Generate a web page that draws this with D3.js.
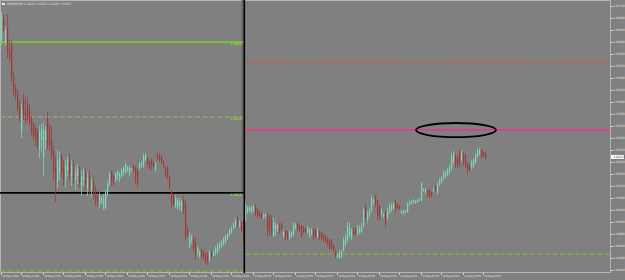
<!DOCTYPE html>
<html>
<head>
<meta charset="utf-8">
<script src="https://cdn.jsdelivr.net/npm/d3@7"></script>
<style>
body { margin: 0; background: #808080; }
svg { display: block; }
</style>
</head>
<body>
<script>
var w = 625;
var h = 280;

var symbol = "GBPUSD,M5";
var fridayStart = new Date(2016, 4, 20, 13, 50);
var mondayStart = new Date(2016, 4, 23, 0, 0);

// [open, high, low, close]
var friday = [
[1.45607,1.45700,1.45590,1.45690],[1.45680,1.45693,1.45633,1.45640],[1.45600,1.45653,1.45587,1.45640],[1.45647,1.45693,1.45547,1.45567],[1.45567,1.45607,1.45533,1.45547],
[1.45590,1.45603,1.45467,1.45480],[1.45480,1.45500,1.45420,1.45440],[1.45447,1.45460,1.45407,1.45420],[1.45427,1.45440,1.45367,1.45380],[1.45387,1.45407,1.45333,1.45347],
[1.45307,1.45393,1.45280,1.45373],[1.45407,1.45427,1.45340,1.45353],[1.45367,1.45420,1.45327,1.45340],[1.45393,1.45413,1.45333,1.45347],[1.45373,1.45393,1.45320,1.45333],
[1.45347,1.45353,1.45287,1.45300],[1.45327,1.45333,1.45273,1.45287],[1.45313,1.45320,1.45253,1.45273],[1.45300,1.45313,1.45240,1.45253],[1.45240,1.45320,1.45213,1.45300],
[1.45273,1.45327,1.45233,1.45313],[1.45213,1.45333,1.45153,1.45307],[1.45273,1.45320,1.45240,1.45307],[1.45347,1.45367,1.45240,1.45260],[1.45320,1.45327,1.45240,1.45253],
[1.45273,1.45320,1.45207,1.45220],[1.45240,1.45253,1.45140,1.45167],[1.45180,1.45223,1.45067,1.45140],[1.45133,1.45240,1.45113,1.45207],[1.45167,1.45233,1.45140,1.45213],
[1.45220,1.45227,1.45147,1.45167],[1.45180,1.45207,1.45120,1.45140],[1.45140,1.45207,1.45113,1.45187],[1.45173,1.45220,1.45153,1.45207],[1.45207,1.45227,1.45140,1.45160],
[1.45153,1.45207,1.45120,1.45187],[1.45190,1.45207,1.45127,1.45147],[1.45140,1.45187,1.45107,1.45167],[1.45153,1.45193,1.45127,1.45180],[1.45173,1.45187,1.45113,1.45133],
[1.45120,1.45173,1.45087,1.45153],[1.45140,1.45180,1.45120,1.45167],[1.45167,1.45180,1.45107,1.45127],[1.45113,1.45167,1.45087,1.45147],[1.45153,1.45173,1.45093,1.45113],
[1.45107,1.45147,1.45080,1.45133],[1.45133,1.45153,1.45073,1.45093],[1.45100,1.45120,1.45053,1.45073],[1.45087,1.45107,1.45053,1.45067],[1.45060,1.45100,1.45047,1.45087],
[1.45067,1.45087,1.45060,1.45080],[1.45047,1.45093,1.45040,1.45080],[1.45047,1.45107,1.45040,1.45100],[1.45093,1.45140,1.45087,1.45127],[1.45127,1.45167,1.45120,1.45160],
[1.45167,1.45173,1.45120,1.45133],[1.45153,1.45160,1.45120,1.45127],[1.45140,1.45167,1.45133,1.45160],[1.45153,1.45173,1.45140,1.45167],[1.45147,1.45167,1.45133,1.45160],
[1.45153,1.45180,1.45147,1.45173],[1.45167,1.45187,1.45153,1.45180],[1.45167,1.45197,1.45160,1.45193],[1.45173,1.45187,1.45167,1.45183],[1.45160,1.45187,1.45153,1.45180],
[1.45173,1.45180,1.45167,1.45177],[1.45187,1.45193,1.45167,1.45173],[1.45180,1.45187,1.45127,1.45140],[1.45173,1.45180,1.45113,1.45127],[1.45180,1.45200,1.45173,1.45193],
[1.45187,1.45203,1.45180,1.45200],[1.45187,1.45230,1.45180,1.45220],[1.45207,1.45230,1.45203,1.45223],[1.45213,1.45220,1.45180,1.45193],[1.45200,1.45207,1.45173,1.45180],
[1.45207,1.45213,1.45173,1.45187],[1.45197,1.45200,1.45183,1.45187],[1.45173,1.45200,1.45167,1.45193],[1.45227,1.45230,1.45207,1.45213],[1.45220,1.45230,1.45200,1.45207],
[1.45213,1.45223,1.45193,1.45200],[1.45200,1.45207,1.45180,1.45187],[1.45180,1.45187,1.45147,1.45153],[1.45180,1.45187,1.45140,1.45147],[1.45147,1.45153,1.45107,1.45113],
[1.45100,1.45107,1.45047,1.45060],[1.45087,1.45093,1.45053,1.45060],[1.45053,1.45087,1.45047,1.45080],[1.45047,1.45080,1.45040,1.45073],[1.45053,1.45080,1.45040,1.45067],
[1.45040,1.45073,1.45033,1.45067],[1.45073,1.45087,1.45027,1.45040],[1.45060,1.45073,1.44940,1.44953],[1.44973,1.44987,1.44947,1.44960],[1.44920,1.44967,1.44913,1.44953],
[1.44940,1.44960,1.44927,1.44953],[1.44947,1.44953,1.44900,1.44913],[1.44933,1.44950,1.44873,1.44887],[1.44893,1.44920,1.44887,1.44913],[1.44887,1.44907,1.44880,1.44900],
[1.44907,1.44913,1.44880,1.44887],[1.44900,1.44907,1.44873,1.44880],[1.44893,1.44900,1.44860,1.44867],[1.44887,1.44900,1.44857,1.44867],[1.44873,1.44907,1.44867,1.44900],
[1.44900,1.44907,1.44880,1.44887],[1.44887,1.44907,1.44887,1.44900],[1.44893,1.44920,1.44887,1.44913],[1.44900,1.44930,1.44893,1.44920],[1.44913,1.44933,1.44907,1.44927],
[1.44920,1.44940,1.44913,1.44933],[1.44927,1.44950,1.44920,1.44947],[1.44933,1.44960,1.44927,1.44953],[1.44947,1.44963,1.44940,1.44960],[1.44960,1.44980,1.44953,1.44973],
[1.44967,1.44987,1.44960,1.44980],[1.44980,1.45000,1.44977,1.44993],[1.44987,1.45013,1.44980,1.45007],[1.45013,1.45020,1.44980,1.44987],[1.44987,1.45007,1.44980,1.45000],
[1.45000,1.45003,1.44967,1.44973],[1.45007,1.45013,1.44923,1.44940]
];

var monday = [
[1.45007,1.45067,1.45000,1.45057],[1.45033,1.45053,1.45027,1.45047],[1.45040,1.45053,1.45033,1.45047],[1.45033,1.45053,1.45027,1.45050],[1.45040,1.45057,1.45033,1.45053],
[1.45053,1.45060,1.45020,1.45027],[1.45040,1.45047,1.45013,1.45020],[1.45033,1.45037,1.45013,1.45020],[1.45027,1.45033,1.45010,1.45013],[1.45013,1.45030,1.45010,1.45023],
[1.45020,1.45030,1.45013,1.45027],[1.45023,1.45030,1.44953,1.44967],[1.45020,1.45027,1.44953,1.44973],[1.45007,1.45023,1.44953,1.44967],[1.44953,1.45013,1.44947,1.45000],
[1.44973,1.45000,1.44953,1.44990],[1.44980,1.44993,1.44967,1.44987],[1.44987,1.44997,1.44960,1.44973],[1.44993,1.45000,1.44967,1.44980],[1.44953,1.44973,1.44947,1.44967],
[1.44973,1.44973,1.44940,1.44953],[1.44967,1.44970,1.44940,1.44947],[1.44947,1.44973,1.44940,1.44967],[1.44953,1.44970,1.44947,1.44967],[1.44960,1.45000,1.44953,1.44993],
[1.44980,1.44997,1.44973,1.44990],[1.44993,1.45000,1.44967,1.44980],[1.44987,1.44993,1.44967,1.44973],[1.44987,1.44990,1.44947,1.44953],[1.44980,1.44987,1.44960,1.44967],
[1.44980,1.44983,1.44963,1.44967],[1.44967,1.44987,1.44960,1.44980],[1.44953,1.44980,1.44947,1.44973],[1.44960,1.44980,1.44953,1.44973],[1.44973,1.44980,1.44940,1.44953],
[1.44973,1.44980,1.44947,1.44953],[1.44953,1.44983,1.44947,1.44973],[1.44967,1.44973,1.44940,1.44947],[1.44963,1.44967,1.44940,1.44947],[1.44953,1.44963,1.44933,1.44940],
[1.44950,1.44957,1.44930,1.44937],[1.44940,1.44950,1.44920,1.44927],[1.44940,1.44943,1.44907,1.44913],[1.44933,1.44943,1.44907,1.44913],[1.44920,1.44923,1.44900,1.44907],
[1.44900,1.44907,1.44880,1.44887],[1.44880,1.44897,1.44880,1.44890],[1.44880,1.44907,1.44877,1.44900],[1.44887,1.44907,1.44880,1.44900],[1.44907,1.44950,1.44900,1.44940],
[1.44927,1.44963,1.44920,1.44953],[1.44940,1.45000,1.44933,1.44987],[1.44953,1.45000,1.44947,1.44980],[1.44947,1.44980,1.44940,1.44973],[1.44973,1.44980,1.44953,1.44960],
[1.44980,1.44983,1.44953,1.44960],[1.44960,1.44990,1.44953,1.44980],[1.44967,1.44990,1.44960,1.44980],[1.44967,1.44997,1.44963,1.44987],[1.44987,1.45047,1.44980,1.45040],
[1.45047,1.45063,1.45000,1.45013],[1.45007,1.45037,1.44997,1.45027],[1.45023,1.45047,1.45017,1.45040],[1.45040,1.45090,1.45033,1.45080],[1.45067,1.45080,1.45057,1.45073],
[1.45087,1.45090,1.45050,1.45060],[1.45073,1.45073,1.45007,1.45020],[1.45053,1.45057,1.45007,1.45013],[1.45027,1.45047,1.45017,1.45040],[1.45020,1.45030,1.45013,1.45027],
[1.45033,1.45037,1.44980,1.44993],[1.45013,1.45047,1.45007,1.45033],[1.45033,1.45063,1.45027,1.45053],[1.45040,1.45063,1.45033,1.45057],[1.45047,1.45067,1.45040,1.45060],
[1.45067,1.45073,1.45033,1.45047],[1.45057,1.45063,1.45040,1.45047],[1.45053,1.45057,1.45040,1.45047],[1.45030,1.45040,1.45027,1.45037],[1.45030,1.45040,1.45023,1.45037],
[1.45033,1.45040,1.45027,1.45037],[1.45033,1.45067,1.45030,1.45060],[1.45060,1.45073,1.45053,1.45067],[1.45063,1.45073,1.45057,1.45070],[1.45067,1.45077,1.45060,1.45073],
[1.45063,1.45073,1.45060,1.45070],[1.45067,1.45077,1.45063,1.45073],[1.45073,1.45080,1.45067,1.45077],[1.45073,1.45133,1.45070,1.45127],[1.45107,1.45113,1.45100,1.45110],
[1.45100,1.45113,1.45093,1.45107],[1.45107,1.45110,1.45083,1.45090],[1.45107,1.45110,1.45080,1.45087],[1.45100,1.45103,1.45080,1.45087],[1.45107,1.45113,1.45100,1.45110],
[1.45120,1.45123,1.45100,1.45107],[1.45100,1.45133,1.45093,1.45127],[1.45127,1.45147,1.45120,1.45140],[1.45133,1.45153,1.45127,1.45147],[1.45147,1.45170,1.45140,1.45163],
[1.45153,1.45173,1.45147,1.45167],[1.45157,1.45180,1.45153,1.45173],[1.45167,1.45190,1.45160,1.45183],[1.45180,1.45230,1.45173,1.45220],[1.45200,1.45237,1.45193,1.45227],
[1.45220,1.45227,1.45180,1.45190],[1.45213,1.45220,1.45180,1.45193],[1.45233,1.45240,1.45180,1.45200],[1.45207,1.45237,1.45200,1.45230],[1.45227,1.45233,1.45187,1.45200],
[1.45220,1.45230,1.45180,1.45190],[1.45193,1.45200,1.45160,1.45173],[1.45187,1.45193,1.45167,1.45173],[1.45180,1.45207,1.45173,1.45200],[1.45187,1.45213,1.45180,1.45207],
[1.45200,1.45230,1.45193,1.45223],[1.45220,1.45247,1.45213,1.45240],[1.45227,1.45247,1.45220,1.45240],[1.45240,1.45243,1.45213,1.45220],[1.45233,1.45237,1.45213,1.45220],
[1.45227,1.45233,1.45207,1.45217]
];

var priceTicks = [1.45720,1.45680,1.45640,1.45600,1.45560,1.45520,1.45480,1.45440,1.45400,1.45360,1.45320,
    1.45280,1.45240,1.45200,1.45160,1.45120,1.45080,1.45040,1.45000,1.44960,1.44920,1.44880,1.44840];

var timeTicks = ["20 May 2016","20 May 14:40","20 May 15:35","20 May 16:25","20 May 17:20","20 May 18:10",
    "20 May 19:05","20 May 19:55","20 May 20:50","20 May 21:40","20 May 22:35","20 May 23:25",
    "23 May 00:20","23 May 01:10","23 May 02:05","23 May 02:55","23 May 03:50","23 May 04:40",
    "23 May 05:35","23 May 06:25","23 May 07:20","23 May 08:10","23 May 09:05","23 May 09:55"];

// horizontal levels drawn over friday and over monday
var fridayLevels = [1.45600, 1.45350, 1.45097, 1.44837];
var mondayLevels = [1.45533, 1.45307, 1.44893];
var fridayLabels = ["1.4560", "1.4535", "1.4510", ""];

// ellipse marking the area under the pink line (bar range, price range)
var ellipseBars = [207.5, 247.5];
var ellipsePrices = [1.45330, 1.45283];

var bull = "#7cd8bb";
var bear = "#a13838";
var plotR = 611;
var plotB = 273;
var font = "'DejaVu Sans Condensed', 'DejaVu Sans', sans-serif";

var bars = friday.concat(monday);
var n = bars.length;
var times = friday.map(function (d, i) { return +fridayStart + i * 300000; })
    .concat(monday.map(function (d, i) { return +mondayStart + i * 300000; }));

var x = d3.scaleBand().domain(d3.range(n)).range([0, n * 2]);
var xAt = function (i) { return x.step() * i + 1; };
var y = d3.scaleLinear().domain([1.44840, 1.45720]).range([270, 6]);

var svg = d3.select("body")
    .append("svg")
    .attr("width", w)
    .attr("height", h)
    .style("font-family", font)
    .style("font-stretch", "condensed");

svg.append("rect").attr("width", w).attr("height", h).attr("fill", "#808080");

// frame
svg.append("path")
    .attr("d", "M0.5,0.5H" + (plotR - 0.5) + "V" + (plotB - 0.5) + "H0.5Z")
    .attr("fill", "none")
    .attr("stroke", "#b4b4b4")
    .attr("stroke-width", 1);

var sepX = x(friday.length);

// friday rectangle edge
svg.append("line")
    .attr("x1", sepX - 1.5).attr("x2", sepX - 1.5)
    .attr("y1", 0).attr("y2", y(fridayLevels[2]))
    .attr("stroke", "#666").attr("stroke-width", 2);

var leftStyle = [
    {c: "#7fd11f", d: null, sw: 1.6},
    {c: "#a4b06a", d: "5,2.5", sw: 1},
    {c: "#000000", d: null, sw: 1.6},
    {c: "#7cc424", d: "5,2.5", sw: 1}
];
var rightStyle = [
    {c: "#e8453c", d: "5,2.5", sw: 1},
    {c: "#e43c8c", d: null, sw: 1.6},
    {c: "#7cc424", d: "5,2.5", sw: 1}
];

svg.selectAll("line.lvlL")
    .data(fridayLevels)
    .enter()
    .append("line")
    .attr("x1", 0).attr("x2", sepX - 0.5)
    .attr("y1", function (d) { return y(d); })
    .attr("y2", function (d) { return y(d); })
    .attr("stroke", function (d, i) { return leftStyle[i].c; })
    .attr("stroke-width", function (d, i) { return leftStyle[i].sw; })
    .attr("stroke-dasharray", function (d, i) { return leftStyle[i].d; });

svg.selectAll("line.lvlR")
    .data(mondayLevels)
    .enter()
    .append("line")
    .attr("x1", sepX + 1).attr("x2", plotR - 1)
    .attr("y1", function (d) { return y(d); })
    .attr("y2", function (d) { return y(d); })
    .attr("stroke", function (d, i) { return rightStyle[i].c; })
    .attr("stroke-width", function (d, i) { return rightStyle[i].sw; })
    .attr("stroke-dasharray", function (d, i) { return rightStyle[i].d; });

// candles
var g = svg.append("g");
g.selectAll("rect.wick")
    .data(bars)
    .enter()
    .append("rect")
    .attr("x", function (d, i) { return x(i) + 1; })
    .attr("y", function (d) { return y(d[1]); })
    .attr("width", 1)
    .attr("height", function (d) { return Math.max(1, y(d[2]) - y(d[1])); })
    .attr("fill", function (d) { return d[3] >= d[0] ? bull : bear; })
    .attr("opacity", 0.7);

g.selectAll("rect.body")
    .data(bars)
    .enter()
    .append("rect")
    .attr("x", function (d, i) { return x(i) + 1; })
    .attr("y", function (d) { return y(Math.max(d[0], d[3])); })
    .attr("width", 1.2)
    .attr("height", function (d) { return Math.max(1, Math.abs(y(d[0]) - y(d[3]))); })
    .attr("fill", function (d) { return d[3] >= d[0] ? bull : bear; });

// separator line
svg.append("line")
    .attr("x1", sepX + 0.3).attr("x2", sepX + 0.3)
    .attr("y1", 0).attr("y2", plotB)
    .attr("stroke", "#000").attr("stroke-width", 1.6);

// level labels on friday side
svg.selectAll("text.lvl")
    .data(fridayLevels)
    .enter()
    .append("text")
    .attr("x", sepX - 2)
    .attr("y", function (d) { return y(d) + 3.4; })
    .attr("text-anchor", "end")
    .attr("font-size", "3.4px")
    .attr("font-weight", "bold")
    .attr("fill", "#86d824")
    .text(function (d, i) { return fridayLabels[i]; });

// ellipse
svg.append("ellipse")
    .attr("cx", (xAt(ellipseBars[0]) + xAt(ellipseBars[1])) / 2)
    .attr("cy", (y(ellipsePrices[0]) + y(ellipsePrices[1])) / 2)
    .attr("rx", (xAt(ellipseBars[1]) - xAt(ellipseBars[0])) / 2)
    .attr("ry", (y(ellipsePrices[1]) - y(ellipsePrices[0])) / 2)
    .attr("fill", "none")
    .attr("stroke", "#000")
    .attr("stroke-width", 1.8);

// price axis
svg.selectAll("line.ptick")
    .data(priceTicks)
    .enter()
    .append("line")
    .attr("x1", plotR).attr("x2", plotR + 2)
    .attr("y1", function (d) { return Math.round(y(d)) + 0.5; })
    .attr("y2", function (d) { return Math.round(y(d)) + 0.5; })
    .attr("stroke", "#d8d8d8");

svg.selectAll("text.ptick")
    .data(priceTicks)
    .enter()
    .append("text")
    .attr("x", plotR + 2.5)
    .attr("y", function (d) { return y(d) + 1.1; })
    .attr("font-size", "3px")
    .attr("fill", "#ececec")
    .text(function (d) { return d.toFixed(5); });

// current price
var last = bars[n - 1];
svg.append("rect")
    .attr("x", plotR)
    .attr("y", y(last[3]) - 2)
    .attr("width", w - plotR - 1)
    .attr("height", 4)
    .attr("fill", "#ffffff");
svg.append("text")
    .attr("x", plotR + 2.5)
    .attr("y", y(last[3]) + 1.1)
    .attr("font-size", "3px")
    .attr("fill", "#222")
    .text(last[3].toFixed(5));

// time axis
var parseDay = d3.timeParse("%d %b %Y");
var parseTime = d3.timeParse("%d %b %H:%M %Y");
var year = fridayStart.getFullYear();
var timeIdx = timeTicks.map(function (s) {
    var t = s.indexOf(":") > 0 ? parseTime(s + " " + year) : parseDay(s);
    return Math.min(n - 1, d3.bisectLeft(times, +t));
});

svg.selectAll("line.xtick")
    .data(timeIdx)
    .enter()
    .append("line")
    .attr("x1", function (d) { return x(d) + 1.5; })
    .attr("x2", function (d) { return x(d) + 1.5; })
    .attr("y1", plotB)
    .attr("y2", plotB + 2)
    .attr("stroke", "#d8d8d8");

svg.selectAll("text.xtick")
    .data(timeTicks)
    .enter()
    .append("text")
    .attr("x", function (d, i) { return x(timeIdx[i]) + 2.5; })
    .attr("y", plotB + 4.2)
    .attr("font-size", "2.7px")
    .attr("fill", "#ececec")
    .text(function (d) { return d; });

// title
svg.append("rect")
    .attr("x", 2).attr("y", 3).attr("width", 3).attr("height", 2)
    .attr("fill", "#e8e8e8");
svg.append("text")
    .attr("x", 7)
    .attr("y", 5.4)
    .attr("font-size", "3px")
    .attr("fill", "#ececec")
    .text(symbol + "  " + last.map(function (v) { return v.toFixed(5); }).join(" "));
</script>
</body>
</html>
